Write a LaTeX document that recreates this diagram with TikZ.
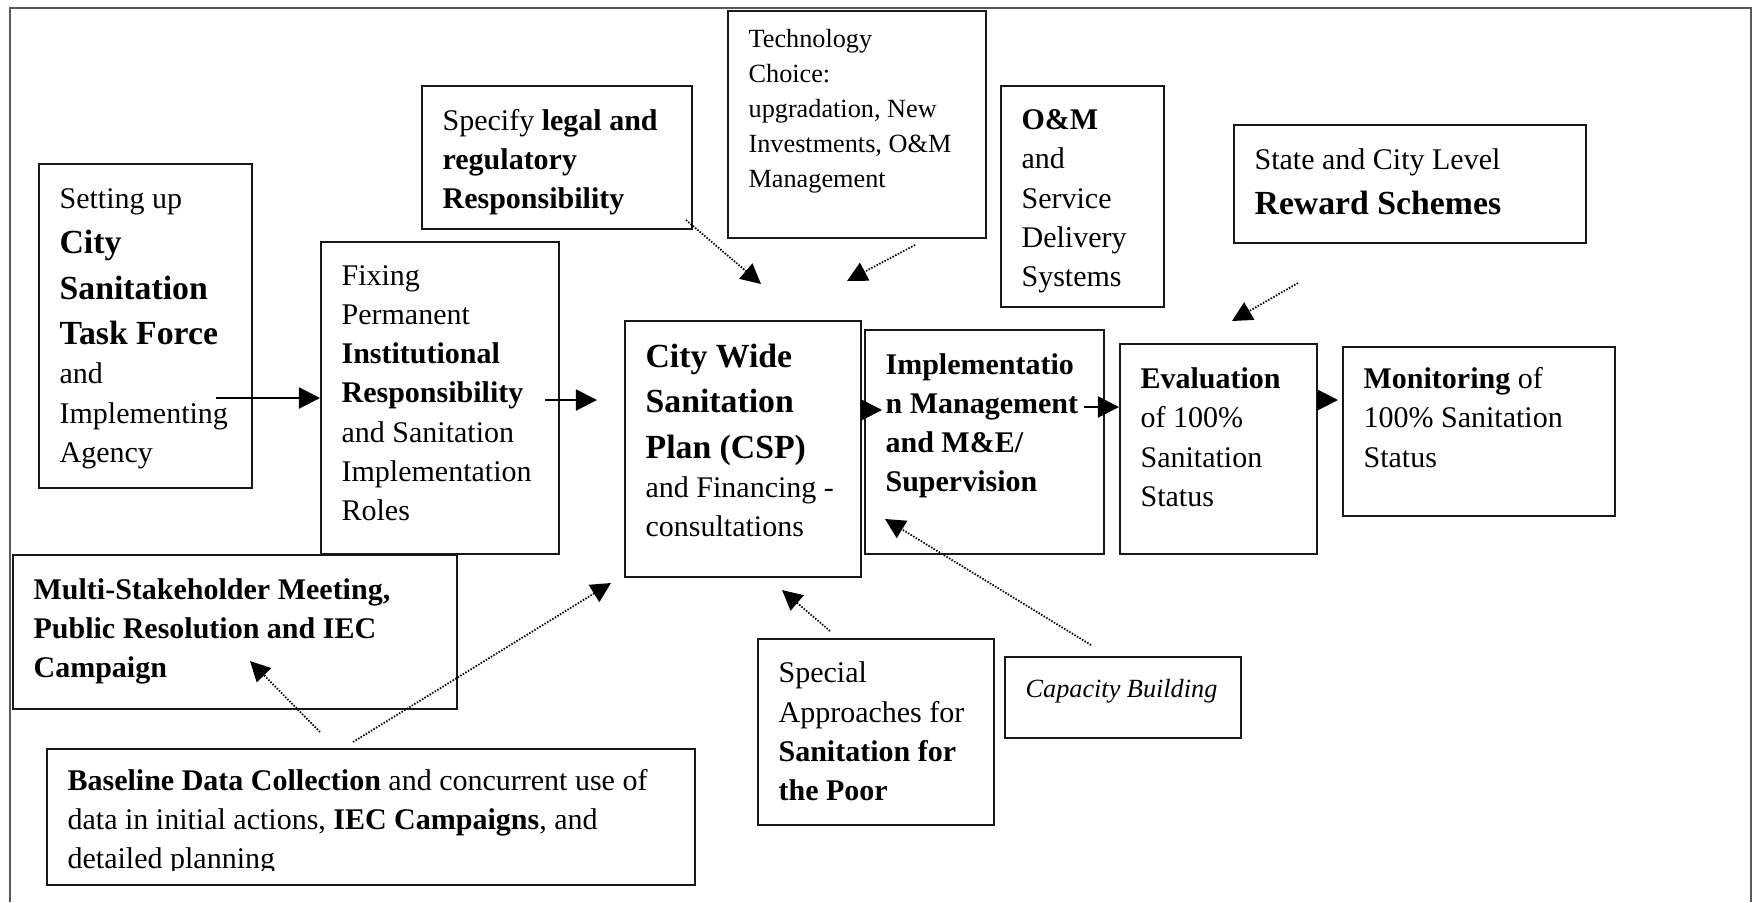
\documentclass[tikz,border=0pt]{standalone}
\usepackage{fontspec}
\setmainfont{Liberation Serif}
\usetikzlibrary{arrows.meta}
\newcommand{\frg}{\fontsize{12}{15.7}\selectfont}
\newcommand{\fbg}{\fontsize{13.5}{18.2}\selectfont\bfseries}
\newcommand{\fsm}{\fontsize{10.5}{14}\selectfont}
\newcommand{\bxt}[4]{\parbox[t][#2][t]{#1}{\vspace*{#3}\raggedright\leftskip=8.2pt\rightskip=0pt plus 1fil\hyphenpenalty=10000\frg\rule{0pt}{10pt}#4\par}}
\begin{document}
\begin{tikzpicture}[x=0.4pt,y=-0.4pt,
  box/.style={draw=black!90, line width=0.9pt, inner sep=0pt, anchor=north west},
  frame/.style={draw=black!65, line width=0.6pt},
  solidarrow/.style={line width=0.8pt, -{Triangle[length=8.5pt,width=8.5pt]}},
  dotarrow/.style={line width=0.7pt, dash pattern=on 0.6pt off 0.6pt, -{Triangle[length=8pt,width=8pt]}}]
\useasboundingbox (0,0) rectangle (1754,902);
\fill[white] (0,0) rectangle (1754,902);
% outer frame (open at the bottom)
\draw[frame] (10,902) -- (10,8) -- (1751,8) -- (1751,902);

% boxes
\node[box] (A) at (38,163) {\bxt{85.2pt}{129.6pt}{7.6pt}{Setting up\par{\fbg City\par Sanitation\par Task Force\par}and\par Implementing\par Agency}};
\node[box] (B) at (320,241) {\bxt{95.2pt}{124.8pt}{7.2pt}{Fixing\par Permanent\par\textbf{Institutional}\par\textbf{Responsibility}\par and Sanitation\par Implementation\par Roles}};
\node[box] (C) at (421,85) {\bxt{108pt}{57.2pt}{7.6pt}{Specify \textbf{legal and}\par\textbf{regulatory}\par\textbf{Responsibility}}};
\node[box] (D) at (727,10) {\bxt{103.2pt}{90.8pt}{4.6pt}{\fsm Technology\par Choice:\par upgradation, New\par Investments, O\&M\par Management}};
\node[box] (E) at (1000,85) {\bxt{65.2pt}{88.4pt}{7.4pt}{\textbf{O\&M}\par and\par Service\par Delivery\par Systems}};
\node[box] (F) at (1233,124) {\bxt{140.8pt}{47.2pt}{7.6pt}{State and City Level\par{\fbg Reward Schemes\par}}};
\node[box] (G) at (624,320) {\bxt{94.4pt}{102.4pt}{8.4pt}{{\fbg City Wide\par Sanitation\par Plan (CSP)\par}and Financing -\par consultations}};
\node[box] (H) at (864,329) {\bxt{95.6pt}{89.6pt}{7.6pt}{\bfseries Implementatio\par n Management\par and M\&E/\par Supervision}};
\node[box] (I) at (1119,343) {\bxt{78.8pt}{84pt}{7.8pt}{\textbf{Evaluation}\par of 100\%\par Sanitation\par Status}};
\node[box] (J) at (1342,346) {\bxt{108.8pt}{67.6pt}{6.6pt}{\textbf{Monitoring} of\par 100\% Sanitation\par Status}};
\node[box] (K) at (12,554) {\bxt{177.6pt}{61.6pt}{7.7pt}{\bfseries Multi-Stakeholder Meeting,\par Public Resolution and IEC\par Campaign}};
\node[box] (L) at (46,748) {\bxt{259.2pt}{54.4pt}{6.4pt}{\textbf{Baseline Data Collection} and concurrent use of\par data in initial actions, \textbf{IEC Campaigns}, and\par detailed planning}};
\fill[white] (48,871) rectangle (692,882);
\node[box] (M) at (757,638) {\bxt{94.4pt}{74.4pt}{7.5pt}{Special\par Approaches for\par\textbf{Sanitation for}\par\textbf{the Poor}}};
\node[box] (N) at (1004,656) {\bxt{94.4pt}{32.4pt}{6.3pt}{\fsm\itshape Capacity Building}};

% solid arrows along the main chain
\coordinate (a1) at (216,398);
\draw[solidarrow] (a1) -- (a1 -| B.west);
\coordinate (b1) at (545,400);
\coordinate (b2) at (597,400);
\draw[solidarrow] (b1) -- (b2);
\coordinate (g1) at (882,410);
\draw[solidarrow] (g1 -| G.east) -- (g1);
\coordinate (h1) at (1084,407);
\draw[solidarrow] (h1) -- (h1 -| I.west);
\coordinate (i1) at (1338,400);
\draw[solidarrow] (i1 -| I.east) -- (i1);

% dotted arrows
\coordinate (cs) at (686,220); \coordinate (ct) at (761,284);
\draw[dotarrow] (cs) -- (ct);
\coordinate (ds) at (915,245); \coordinate (dt) at (847,281);
\draw[dotarrow] (ds) -- (dt);
\coordinate (fs) at (1298,283); \coordinate (ft) at (1232,321);
\draw[dotarrow] (fs) -- (ft);
\coordinate (ns) at (1091,645); \coordinate (nt) at (885,519);
\draw[dotarrow] (ns) -- (nt);
\coordinate (ms) at (830,631); \coordinate (mt) at (782,590);
\draw[dotarrow] (ms) -- (mt);
\coordinate (ls1) at (320,732); \coordinate (lt1) at (250,661);
\draw[dotarrow] (ls1) -- (lt1);
\coordinate (ls2) at (353,742); \coordinate (lt2) at (611,583);
\draw[dotarrow] (ls2) -- (lt2);
\end{tikzpicture}
\end{document}
